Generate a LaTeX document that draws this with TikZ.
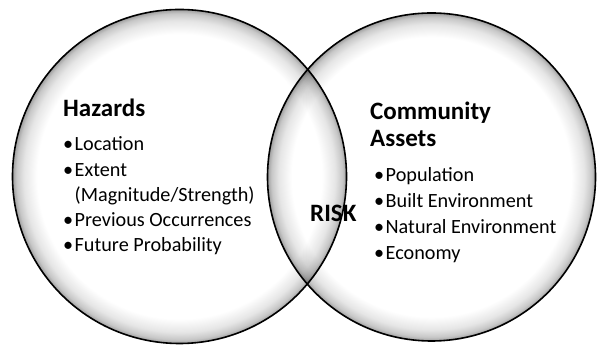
\documentclass[tikz,border=0pt]{standalone}
\usepackage{fontspec}
\setmainfont{Carlito}
\usetikzlibrary{positioning}
% grey glow along the inside of each set (edge of the circle sits at 25bp)
\pgfdeclareradialshading{rimglow}{\pgfpoint{0bp}{0bp}}{%
  color(0bp)=(white); color(21.3bp)=(white); color(23.3bp)=(black!10);
  color(24.4bp)=(black!22); color(25bp)=(black!38); color(50bp)=(black!38)}
\newcommand{\bul}{\makebox[11.5pt][l]{\textbullet}}

\begin{document}
\begin{tikzpicture}[
    x=1pt, y=1pt,
    setcircle/.style={
        circle, draw=black, line width=1.6pt, shading=rimglow,
        blend mode=multiply, inner sep=0pt
      },
    heading/.style={
        anchor=base west, inner sep=0pt, align=left,
        font=\fontsize{25}{27}\selectfont\bfseries
      },
    bullets/.style={
        anchor=base west, inner sep=0pt, align=left,
        font=\fontsize{20.2}{25.3}\selectfont
      },
  ]
  \useasboundingbox (0,0) rectangle (597,347);
  \node[setcircle, minimum size=334pt] (haz) at (179.5,170.5) {};
  \node[setcircle, minimum size=328pt] (com) at (431.5,170) {};

  % multi-line nodes sit on the baseline of their last line
  \node[heading] (hazt) at (63,230) {Hazards};
  \node[bullets] (hazl) at (63,95) {\bul Location\\
    \bul Extent\\
    \hspace{11.5pt}(Magnitude/Strength)\\
    \bul Previous Occurrences\\
    \bul Future Probability};

  \node[heading] (comt) at (370,200) {Community\\Assets};
  \node[bullets, font=\fontsize{20.2}{26.3}\selectfont] (coml) at (374,87) {\bul Population\\
    \bul Built Environment\\
    \bul Natural Environment\\
    \bul Economy};

  \node[heading] (risk) at (310,125) {RISK};
\end{tikzpicture}
\end{document}
